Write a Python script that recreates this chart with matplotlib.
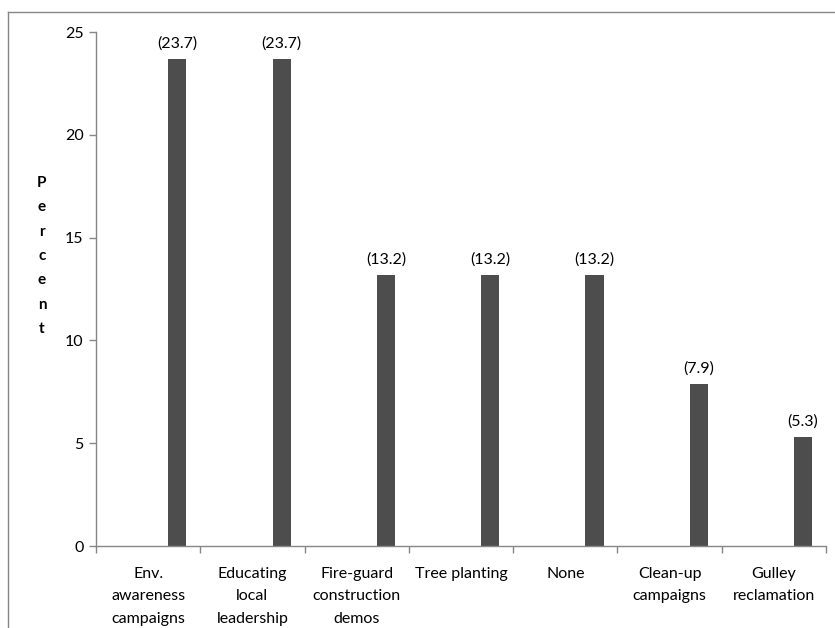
import numpy as np
import matplotlib
matplotlib.use("Agg")
import matplotlib.pyplot as plt
from matplotlib.lines import Line2D

# Share of respondents by conservation activity
categories = ["Env.\nawareness\ncampaigns", "Educating\nlocal\nleadership",
              "Fire-guard\nconstruction\ndemos", "Tree planting", "None",
              "Clean-up\ncampaigns", "Gulley\nreclamation"]
percent = [23.7, 23.7, 13.2, 13.2, 13.2, 7.9, 5.3]
yticks = [0, 5, 10, 15, 20, 25]

plt.rcParams["font.family"] = ["Lato", "DejaVu Sans"]
axis_grey = "#868686"
bar_grey = "#4d4d4d"
fs = 11.5

fig = plt.figure(figsize=(8.35, 6.28), dpi=100)
ax = fig.add_axes([96 / 835, 1 - 546 / 628, 730 / 835, 514 / 628])

x = np.arange(len(categories))
# bars sit in the right half of each category slot
bar_x = x + 0.28
ax.bar(bar_x, percent, width=0.175, color=bar_grey)

for bx, v in zip(bar_x, percent):
    ax.annotate("(%.1f)" % v, (bx, v), xytext=(0, 6), textcoords="offset points",
                ha="center", va="bottom", fontsize=fs, color="black")

ax.set_xlim(-0.5, len(categories) - 0.5)
ax.set_ylim(0, 25)
ax.set_yticks(yticks)
ax.tick_params(axis="y", direction="out", length=5, width=1, color=axis_grey,
               pad=4, labelsize=fs)

# category labels in the middle, tick marks on the slot boundaries
ax.set_xticks(x)
ax.set_xticklabels(categories, fontsize=fs, linespacing=1.78)
ax.tick_params(axis="x", which="major", length=0, pad=15)
ax.set_xticks(np.arange(-0.5, len(categories)), minor=True)
ax.tick_params(axis="x", which="minor", direction="out", length=5, width=1,
               color=axis_grey)

for side in ["top", "right"]:
    ax.spines[side].set_visible(False)
for side in ["left", "bottom"]:
    ax.spines[side].set_color(axis_grey)
    ax.spines[side].set_linewidth(1)

# stacked axis title
fig.text(42 / 835, 1 - 256 / 628, "\n".join("Percent"), ha="center", va="center",
         fontsize=11, fontweight="bold", linespacing=1.95)

# chart area border
fig.add_artist(Line2D([8 / 835, 8 / 835], [0, 1 - 12 / 628], color=axis_grey,
                      lw=1, transform=fig.transFigure))
fig.add_artist(Line2D([8 / 835, 1], [1 - 12 / 628, 1 - 12 / 628], color=axis_grey,
                      lw=1, transform=fig.transFigure))

fig.savefig("out.png", dpi=100)
